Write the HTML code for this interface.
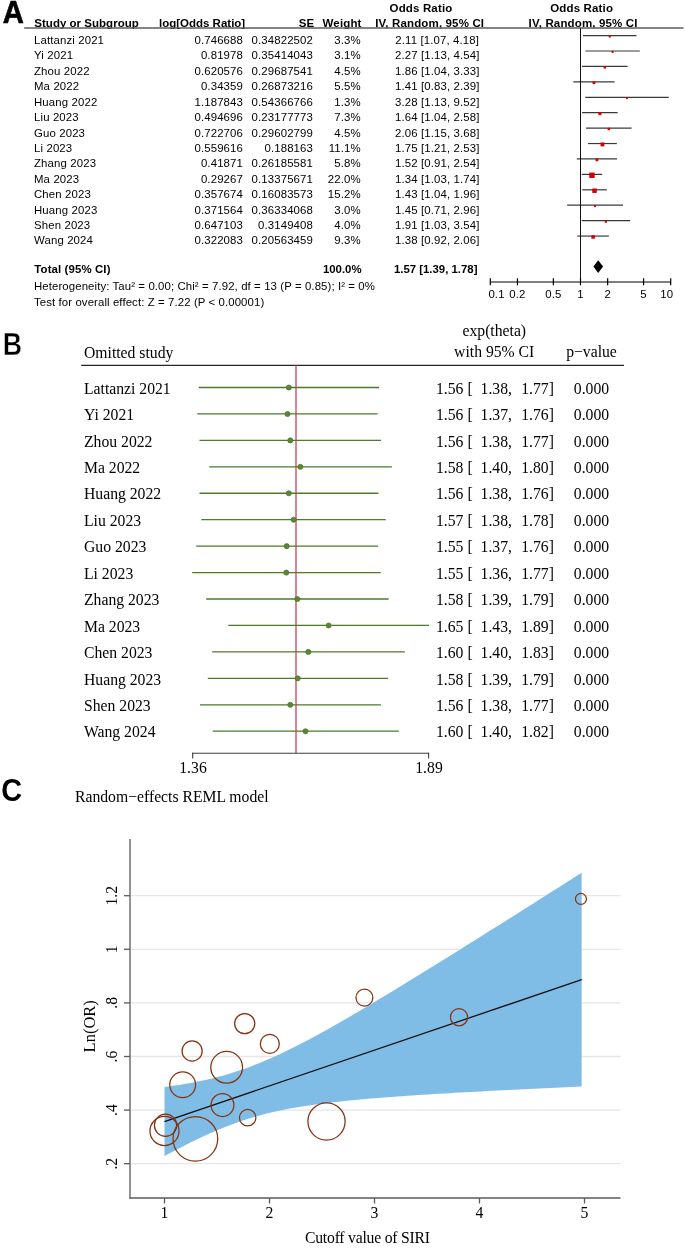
<!DOCTYPE html>
<html><head><meta charset="utf-8"><title>Figure</title>
<style>html,body{margin:0;padding:0;background:#fff;}body{width:685px;height:1259px;overflow:hidden;}svg{display:block;will-change:transform;}</style>
</head><body>
<svg width="685" height="1259" viewBox="0 0 685 1259"><text x="0.00" y="0.00" font-family='"Liberation Sans", sans-serif' font-size="30" text-anchor="start" font-weight="bold" fill="#000" letter-spacing="0" transform="translate(2.75 22.6) scale(0.975 1.05)" stroke="#000" stroke-width="0.6">A</text>
<text x="34.30" y="26.60" font-family='"Liberation Sans", sans-serif' font-size="11.5" text-anchor="start" font-weight="bold" fill="#000" letter-spacing="0.02" >Study or Subgroup</text>
<text x="245.20" y="26.60" font-family='"Liberation Sans", sans-serif' font-size="11.5" text-anchor="end" font-weight="bold" fill="#000" letter-spacing="0" >log[Odds Ratio]</text>
<text x="314.30" y="26.60" font-family='"Liberation Sans", sans-serif' font-size="11.5" text-anchor="end" font-weight="bold" fill="#000" letter-spacing="0.15" >SE</text>
<text x="361.60" y="26.60" font-family='"Liberation Sans", sans-serif' font-size="11.5" text-anchor="end" font-weight="bold" fill="#000" letter-spacing="0.15" >Weight</text>
<text x="429.70" y="26.60" font-family='"Liberation Sans", sans-serif' font-size="11.5" text-anchor="middle" font-weight="bold" fill="#000" letter-spacing="0.15" >IV, Random, 95% CI</text>
<text x="421.00" y="11.70" font-family='"Liberation Sans", sans-serif' font-size="11.5" text-anchor="middle" font-weight="bold" fill="#000" letter-spacing="0.15" >Odds Ratio</text>
<text x="583.10" y="26.60" font-family='"Liberation Sans", sans-serif' font-size="11.5" text-anchor="middle" font-weight="bold" fill="#000" letter-spacing="0.15" >IV, Random, 95% CI</text>
<text x="581.70" y="11.70" font-family='"Liberation Sans", sans-serif' font-size="11.5" text-anchor="middle" font-weight="bold" fill="#000" letter-spacing="0.15" >Odds Ratio</text>
<line x1="24.20" y1="28.10" x2="683.50" y2="28.10" stroke="#5c5c5c" stroke-width="1.5" />
<text x="34.00" y="44.00" font-family='"Liberation Sans", sans-serif' font-size="11.4" text-anchor="start" font-weight="normal" fill="#000" letter-spacing="0.13" >Lattanzi 2021</text>
<text x="243.00" y="44.00" font-family='"Liberation Sans", sans-serif' font-size="11.4" text-anchor="end" font-weight="normal" fill="#000" letter-spacing="0.13" >0.746688</text>
<text x="313.00" y="44.00" font-family='"Liberation Sans", sans-serif' font-size="11.4" text-anchor="end" font-weight="normal" fill="#000" letter-spacing="0.13" >0.34822502</text>
<text x="360.80" y="44.00" font-family='"Liberation Sans", sans-serif' font-size="11.4" text-anchor="end" font-weight="normal" fill="#000" letter-spacing="0.13" >3.3%</text>
<text x="437.20" y="44.00" font-family='"Liberation Sans", sans-serif' font-size="11.4" text-anchor="middle" font-weight="normal" fill="#000" letter-spacing="0.13" >2.11 [1.07, 4.18]</text>
<line x1="583.01" y1="35.60" x2="636.49" y2="35.60" stroke="#3a3a3a" stroke-width="1.2" />
<rect x="608.71" y="35.46" width="2.09" height="2.09" fill="#d40000"/>
<text x="34.00" y="59.42" font-family='"Liberation Sans", sans-serif' font-size="11.4" text-anchor="start" font-weight="normal" fill="#000" letter-spacing="0.13" >Yi 2021</text>
<text x="243.00" y="59.42" font-family='"Liberation Sans", sans-serif' font-size="11.4" text-anchor="end" font-weight="normal" fill="#000" letter-spacing="0.13" >0.81978</text>
<text x="313.00" y="59.42" font-family='"Liberation Sans", sans-serif' font-size="11.4" text-anchor="end" font-weight="normal" fill="#000" letter-spacing="0.13" >0.35414043</text>
<text x="360.80" y="59.42" font-family='"Liberation Sans", sans-serif' font-size="11.4" text-anchor="end" font-weight="normal" fill="#000" letter-spacing="0.13" >3.1%</text>
<text x="437.20" y="59.42" font-family='"Liberation Sans", sans-serif' font-size="11.4" text-anchor="middle" font-weight="normal" fill="#000" letter-spacing="0.13" >2.27 [1.13, 4.54]</text>
<line x1="585.42" y1="51.02" x2="639.80" y2="51.02" stroke="#3a3a3a" stroke-width="1.2" />
<rect x="611.60" y="50.91" width="2.02" height="2.02" fill="#d40000"/>
<text x="34.00" y="74.84" font-family='"Liberation Sans", sans-serif' font-size="11.4" text-anchor="start" font-weight="normal" fill="#000" letter-spacing="0.13" >Zhou 2022</text>
<text x="243.00" y="74.84" font-family='"Liberation Sans", sans-serif' font-size="11.4" text-anchor="end" font-weight="normal" fill="#000" letter-spacing="0.13" >0.620576</text>
<text x="313.00" y="74.84" font-family='"Liberation Sans", sans-serif' font-size="11.4" text-anchor="end" font-weight="normal" fill="#000" letter-spacing="0.13" >0.29687541</text>
<text x="360.80" y="74.84" font-family='"Liberation Sans", sans-serif' font-size="11.4" text-anchor="end" font-weight="normal" fill="#000" letter-spacing="0.13" >4.5%</text>
<text x="437.20" y="74.84" font-family='"Liberation Sans", sans-serif' font-size="11.4" text-anchor="middle" font-weight="normal" fill="#000" letter-spacing="0.13" >1.86 [1.04, 3.33]</text>
<line x1="582.02" y1="66.44" x2="627.60" y2="66.44" stroke="#3a3a3a" stroke-width="1.2" />
<rect x="603.59" y="66.12" width="2.44" height="2.44" fill="#d40000"/>
<text x="34.00" y="90.26" font-family='"Liberation Sans", sans-serif' font-size="11.4" text-anchor="start" font-weight="normal" fill="#000" letter-spacing="0.13" >Ma 2022</text>
<text x="243.00" y="90.26" font-family='"Liberation Sans", sans-serif' font-size="11.4" text-anchor="end" font-weight="normal" fill="#000" letter-spacing="0.13" >0.34359</text>
<text x="313.00" y="90.26" font-family='"Liberation Sans", sans-serif' font-size="11.4" text-anchor="end" font-weight="normal" fill="#000" letter-spacing="0.13" >0.26873216</text>
<text x="360.80" y="90.26" font-family='"Liberation Sans", sans-serif' font-size="11.4" text-anchor="end" font-weight="normal" fill="#000" letter-spacing="0.13" >5.5%</text>
<text x="437.20" y="90.26" font-family='"Liberation Sans", sans-serif' font-size="11.4" text-anchor="middle" font-weight="normal" fill="#000" letter-spacing="0.13" >1.41 [0.83, 2.39]</text>
<line x1="573.33" y1="81.86" x2="614.59" y2="81.86" stroke="#3a3a3a" stroke-width="1.2" />
<rect x="592.61" y="81.41" width="2.70" height="2.70" fill="#d40000"/>
<text x="34.00" y="105.68" font-family='"Liberation Sans", sans-serif' font-size="11.4" text-anchor="start" font-weight="normal" fill="#000" letter-spacing="0.13" >Huang 2022</text>
<text x="243.00" y="105.68" font-family='"Liberation Sans", sans-serif' font-size="11.4" text-anchor="end" font-weight="normal" fill="#000" letter-spacing="0.13" >1.187843</text>
<text x="313.00" y="105.68" font-family='"Liberation Sans", sans-serif' font-size="11.4" text-anchor="end" font-weight="normal" fill="#000" letter-spacing="0.13" >0.54366766</text>
<text x="360.80" y="105.68" font-family='"Liberation Sans", sans-serif' font-size="11.4" text-anchor="end" font-weight="normal" fill="#000" letter-spacing="0.13" >1.3%</text>
<text x="437.20" y="105.68" font-family='"Liberation Sans", sans-serif' font-size="11.4" text-anchor="middle" font-weight="normal" fill="#000" letter-spacing="0.13" >3.28 [1.13, 9.52]</text>
<line x1="585.29" y1="97.28" x2="668.77" y2="97.28" stroke="#3a3a3a" stroke-width="1.2" />
<rect x="626.08" y="97.23" width="1.90" height="1.90" fill="#d40000"/>
<text x="34.00" y="121.10" font-family='"Liberation Sans", sans-serif' font-size="11.4" text-anchor="start" font-weight="normal" fill="#000" letter-spacing="0.13" >Liu 2023</text>
<text x="243.00" y="121.10" font-family='"Liberation Sans", sans-serif' font-size="11.4" text-anchor="end" font-weight="normal" fill="#000" letter-spacing="0.13" >0.494696</text>
<text x="313.00" y="121.10" font-family='"Liberation Sans", sans-serif' font-size="11.4" text-anchor="end" font-weight="normal" fill="#000" letter-spacing="0.13" >0.23177773</text>
<text x="360.80" y="121.10" font-family='"Liberation Sans", sans-serif' font-size="11.4" text-anchor="end" font-weight="normal" fill="#000" letter-spacing="0.13" >7.3%</text>
<text x="437.20" y="121.10" font-family='"Liberation Sans", sans-serif' font-size="11.4" text-anchor="middle" font-weight="normal" fill="#000" letter-spacing="0.13" >1.64 [1.04, 2.58]</text>
<line x1="582.08" y1="112.70" x2="617.67" y2="112.70" stroke="#3a3a3a" stroke-width="1.2" />
<rect x="598.33" y="112.05" width="3.11" height="3.11" fill="#d40000"/>
<text x="34.00" y="136.52" font-family='"Liberation Sans", sans-serif' font-size="11.4" text-anchor="start" font-weight="normal" fill="#000" letter-spacing="0.13" >Guo 2023</text>
<text x="243.00" y="136.52" font-family='"Liberation Sans", sans-serif' font-size="11.4" text-anchor="end" font-weight="normal" fill="#000" letter-spacing="0.13" >0.722706</text>
<text x="313.00" y="136.52" font-family='"Liberation Sans", sans-serif' font-size="11.4" text-anchor="end" font-weight="normal" fill="#000" letter-spacing="0.13" >0.29602799</text>
<text x="360.80" y="136.52" font-family='"Liberation Sans", sans-serif' font-size="11.4" text-anchor="end" font-weight="normal" fill="#000" letter-spacing="0.13" >4.5%</text>
<text x="437.20" y="136.52" font-family='"Liberation Sans", sans-serif' font-size="11.4" text-anchor="middle" font-weight="normal" fill="#000" letter-spacing="0.13" >2.06 [1.15, 3.68]</text>
<line x1="586.08" y1="128.12" x2="631.54" y2="128.12" stroke="#3a3a3a" stroke-width="1.2" />
<rect x="607.59" y="127.80" width="2.44" height="2.44" fill="#d40000"/>
<text x="34.00" y="151.94" font-family='"Liberation Sans", sans-serif' font-size="11.4" text-anchor="start" font-weight="normal" fill="#000" letter-spacing="0.13" >Li 2023</text>
<text x="243.00" y="151.94" font-family='"Liberation Sans", sans-serif' font-size="11.4" text-anchor="end" font-weight="normal" fill="#000" letter-spacing="0.13" >0.559616</text>
<text x="313.00" y="151.94" font-family='"Liberation Sans", sans-serif' font-size="11.4" text-anchor="end" font-weight="normal" fill="#000" letter-spacing="0.13" >0.188163</text>
<text x="360.80" y="151.94" font-family='"Liberation Sans", sans-serif' font-size="11.4" text-anchor="end" font-weight="normal" fill="#000" letter-spacing="0.13" >11.1%</text>
<text x="437.20" y="151.94" font-family='"Liberation Sans", sans-serif' font-size="11.4" text-anchor="middle" font-weight="normal" fill="#000" letter-spacing="0.13" >1.75 [1.21, 2.53]</text>
<line x1="587.97" y1="143.54" x2="616.87" y2="143.54" stroke="#3a3a3a" stroke-width="1.2" />
<rect x="600.51" y="142.52" width="3.83" height="3.83" fill="#d40000"/>
<text x="34.00" y="167.36" font-family='"Liberation Sans", sans-serif' font-size="11.4" text-anchor="start" font-weight="normal" fill="#000" letter-spacing="0.13" >Zhang 2023</text>
<text x="243.00" y="167.36" font-family='"Liberation Sans", sans-serif' font-size="11.4" text-anchor="end" font-weight="normal" fill="#000" letter-spacing="0.13" >0.41871</text>
<text x="313.00" y="167.36" font-family='"Liberation Sans", sans-serif' font-size="11.4" text-anchor="end" font-weight="normal" fill="#000" letter-spacing="0.13" >0.26185581</text>
<text x="360.80" y="167.36" font-family='"Liberation Sans", sans-serif' font-size="11.4" text-anchor="end" font-weight="normal" fill="#000" letter-spacing="0.13" >5.8%</text>
<text x="437.20" y="167.36" font-family='"Liberation Sans", sans-serif' font-size="11.4" text-anchor="middle" font-weight="normal" fill="#000" letter-spacing="0.13" >1.52 [0.91, 2.54]</text>
<line x1="576.80" y1="158.96" x2="617.01" y2="158.96" stroke="#3a3a3a" stroke-width="1.2" />
<rect x="595.52" y="158.48" width="2.77" height="2.77" fill="#d40000"/>
<text x="34.00" y="182.78" font-family='"Liberation Sans", sans-serif' font-size="11.4" text-anchor="start" font-weight="normal" fill="#000" letter-spacing="0.13" >Ma 2023</text>
<text x="243.00" y="182.78" font-family='"Liberation Sans", sans-serif' font-size="11.4" text-anchor="end" font-weight="normal" fill="#000" letter-spacing="0.13" >0.29267</text>
<text x="313.00" y="182.78" font-family='"Liberation Sans", sans-serif' font-size="11.4" text-anchor="end" font-weight="normal" fill="#000" letter-spacing="0.13" >0.13375671</text>
<text x="360.80" y="182.78" font-family='"Liberation Sans", sans-serif' font-size="11.4" text-anchor="end" font-weight="normal" fill="#000" letter-spacing="0.13" >22.0%</text>
<text x="437.20" y="182.78" font-family='"Liberation Sans", sans-serif' font-size="11.4" text-anchor="middle" font-weight="normal" fill="#000" letter-spacing="0.13" >1.34 [1.03, 1.74]</text>
<line x1="581.70" y1="174.38" x2="602.23" y2="174.38" stroke="#3a3a3a" stroke-width="1.2" />
<rect x="589.27" y="172.58" width="5.39" height="5.39" fill="#d40000"/>
<text x="34.00" y="198.20" font-family='"Liberation Sans", sans-serif' font-size="11.4" text-anchor="start" font-weight="normal" fill="#000" letter-spacing="0.13" >Chen 2023</text>
<text x="243.00" y="198.20" font-family='"Liberation Sans", sans-serif' font-size="11.4" text-anchor="end" font-weight="normal" fill="#000" letter-spacing="0.13" >0.357674</text>
<text x="313.00" y="198.20" font-family='"Liberation Sans", sans-serif' font-size="11.4" text-anchor="end" font-weight="normal" fill="#000" letter-spacing="0.13" >0.16083573</text>
<text x="360.80" y="198.20" font-family='"Liberation Sans", sans-serif' font-size="11.4" text-anchor="end" font-weight="normal" fill="#000" letter-spacing="0.13" >15.2%</text>
<text x="437.20" y="198.20" font-family='"Liberation Sans", sans-serif' font-size="11.4" text-anchor="middle" font-weight="normal" fill="#000" letter-spacing="0.13" >1.43 [1.04, 1.96]</text>
<line x1="582.16" y1="189.80" x2="606.86" y2="189.80" stroke="#3a3a3a" stroke-width="1.2" />
<rect x="592.27" y="188.46" width="4.48" height="4.48" fill="#d40000"/>
<text x="34.00" y="213.62" font-family='"Liberation Sans", sans-serif' font-size="11.4" text-anchor="start" font-weight="normal" fill="#000" letter-spacing="0.13" >Huang 2023</text>
<text x="243.00" y="213.62" font-family='"Liberation Sans", sans-serif' font-size="11.4" text-anchor="end" font-weight="normal" fill="#000" letter-spacing="0.13" >0.371564</text>
<text x="313.00" y="213.62" font-family='"Liberation Sans", sans-serif' font-size="11.4" text-anchor="end" font-weight="normal" fill="#000" letter-spacing="0.13" >0.36334068</text>
<text x="360.80" y="213.62" font-family='"Liberation Sans", sans-serif' font-size="11.4" text-anchor="end" font-weight="normal" fill="#000" letter-spacing="0.13" >3.0%</text>
<text x="437.20" y="213.62" font-family='"Liberation Sans", sans-serif' font-size="11.4" text-anchor="middle" font-weight="normal" fill="#000" letter-spacing="0.13" >1.45 [0.71, 2.96]</text>
<line x1="567.16" y1="205.22" x2="622.95" y2="205.22" stroke="#3a3a3a" stroke-width="1.2" />
<rect x="594.06" y="205.12" width="1.99" height="1.99" fill="#d40000"/>
<text x="34.00" y="229.04" font-family='"Liberation Sans", sans-serif' font-size="11.4" text-anchor="start" font-weight="normal" fill="#000" letter-spacing="0.13" >Shen 2023</text>
<text x="243.00" y="229.04" font-family='"Liberation Sans", sans-serif' font-size="11.4" text-anchor="end" font-weight="normal" fill="#000" letter-spacing="0.13" >0.647103</text>
<text x="313.00" y="229.04" font-family='"Liberation Sans", sans-serif' font-size="11.4" text-anchor="end" font-weight="normal" fill="#000" letter-spacing="0.13" >0.3149408</text>
<text x="360.80" y="229.04" font-family='"Liberation Sans", sans-serif' font-size="11.4" text-anchor="end" font-weight="normal" fill="#000" letter-spacing="0.13" >4.0%</text>
<text x="437.20" y="229.04" font-family='"Liberation Sans", sans-serif' font-size="11.4" text-anchor="middle" font-weight="normal" fill="#000" letter-spacing="0.13" >1.91 [1.03, 3.54]</text>
<line x1="581.67" y1="220.64" x2="630.03" y2="220.64" stroke="#3a3a3a" stroke-width="1.2" />
<rect x="604.70" y="220.39" width="2.30" height="2.30" fill="#d40000"/>
<text x="34.00" y="244.46" font-family='"Liberation Sans", sans-serif' font-size="11.4" text-anchor="start" font-weight="normal" fill="#000" letter-spacing="0.13" >Wang 2024</text>
<text x="243.00" y="244.46" font-family='"Liberation Sans", sans-serif' font-size="11.4" text-anchor="end" font-weight="normal" fill="#000" letter-spacing="0.13" >0.322083</text>
<text x="313.00" y="244.46" font-family='"Liberation Sans", sans-serif' font-size="11.4" text-anchor="end" font-weight="normal" fill="#000" letter-spacing="0.13" >0.20563459</text>
<text x="360.80" y="244.46" font-family='"Liberation Sans", sans-serif' font-size="11.4" text-anchor="end" font-weight="normal" fill="#000" letter-spacing="0.13" >9.3%</text>
<text x="437.20" y="244.46" font-family='"Liberation Sans", sans-serif' font-size="11.4" text-anchor="middle" font-weight="normal" fill="#000" letter-spacing="0.13" >1.38 [0.92, 2.06]</text>
<line x1="577.33" y1="236.06" x2="608.91" y2="236.06" stroke="#3a3a3a" stroke-width="1.2" />
<rect x="591.36" y="235.21" width="3.51" height="3.51" fill="#d40000"/>
<text x="34.30" y="272.90" font-family='"Liberation Sans", sans-serif' font-size="11.4" text-anchor="start" font-weight="bold" fill="#000" letter-spacing="0.13" >Total (95% CI)</text>
<text x="361.60" y="272.90" font-family='"Liberation Sans", sans-serif' font-size="11.4" text-anchor="end" font-weight="bold" fill="#000" letter-spacing="0" >100.0%</text>
<text x="435.70" y="272.90" font-family='"Liberation Sans", sans-serif' font-size="11.4" text-anchor="middle" font-weight="bold" fill="#000" letter-spacing="0" >1.57 [1.39, 1.78]</text>
<text x="34.00" y="290.30" font-family='"Liberation Sans", sans-serif' font-size="11.4" text-anchor="start" font-weight="normal" fill="#000" letter-spacing="0.1" >Heterogeneity: Tau² = 0.00; Chi² = 7.92, df = 13 (P = 0.85); I² = 0%</text>
<text x="34.00" y="305.50" font-family='"Liberation Sans", sans-serif' font-size="11.4" text-anchor="start" font-weight="normal" fill="#000" letter-spacing="0.1" >Test for overall effect: Z = 7.22 (P &lt; 0.00001)</text>
<polygon points="593.40,266.6 598.17,260.3 603.09,266.6 598.17,272.9" fill="#000"/>
<line x1="580.50" y1="28.30" x2="580.50" y2="282.00" stroke="#111" stroke-width="1.05" />
<line x1="490.50" y1="282.00" x2="671.00" y2="282.00" stroke="#000" stroke-width="1.2" />
<line x1="490.30" y1="278.30" x2="490.30" y2="285.30" stroke="#000" stroke-width="1.2" />
<text x="488.40" y="297.50" font-family='"Liberation Sans", sans-serif' font-size="11.4" text-anchor="start" font-weight="normal" fill="#000" letter-spacing="0.13" >0.1</text>
<line x1="517.45" y1="278.30" x2="517.45" y2="285.30" stroke="#000" stroke-width="1.2" />
<text x="517.45" y="297.50" font-family='"Liberation Sans", sans-serif' font-size="11.4" text-anchor="middle" font-weight="normal" fill="#000" letter-spacing="0.13" >0.2</text>
<line x1="553.35" y1="278.30" x2="553.35" y2="285.30" stroke="#000" stroke-width="1.2" />
<text x="553.35" y="297.50" font-family='"Liberation Sans", sans-serif' font-size="11.4" text-anchor="middle" font-weight="normal" fill="#000" letter-spacing="0.13" >0.5</text>
<line x1="580.50" y1="278.30" x2="580.50" y2="285.30" stroke="#000" stroke-width="1.2" />
<text x="580.50" y="297.50" font-family='"Liberation Sans", sans-serif' font-size="11.4" text-anchor="middle" font-weight="normal" fill="#000" letter-spacing="0.13" >1</text>
<line x1="607.65" y1="278.30" x2="607.65" y2="285.30" stroke="#000" stroke-width="1.2" />
<text x="607.65" y="297.50" font-family='"Liberation Sans", sans-serif' font-size="11.4" text-anchor="middle" font-weight="normal" fill="#000" letter-spacing="0.13" >2</text>
<line x1="643.55" y1="278.30" x2="643.55" y2="285.30" stroke="#000" stroke-width="1.2" />
<text x="643.55" y="297.50" font-family='"Liberation Sans", sans-serif' font-size="11.4" text-anchor="middle" font-weight="normal" fill="#000" letter-spacing="0.13" >5</text>
<line x1="670.70" y1="278.30" x2="670.70" y2="285.30" stroke="#000" stroke-width="1.2" />
<text x="673.20" y="297.50" font-family='"Liberation Sans", sans-serif' font-size="11.4" text-anchor="end" font-weight="normal" fill="#000" letter-spacing="0.13" >10</text>
<text x="0.00" y="0.00" font-family='"Liberation Sans", sans-serif' font-size="30" text-anchor="start" font-weight="bold" fill="#000" letter-spacing="0" transform="translate(2.67 355.4) scale(0.894 1.02)" stroke="#fff" stroke-width="0.45">B</text>
<text x="84.00" y="357.60" font-family='"Liberation Serif", serif' font-size="15.7" text-anchor="start" font-weight="normal" fill="#000" letter-spacing="0" >Omitted study</text>
<text x="494.30" y="336.30" font-family='"Liberation Serif", serif' font-size="15.7" text-anchor="middle" font-weight="normal" fill="#000" letter-spacing="0" >exp(theta)</text>
<text x="494.20" y="356.70" font-family='"Liberation Serif", serif' font-size="15.7" text-anchor="middle" font-weight="normal" fill="#000" letter-spacing="0" >with 95% CI</text>
<text x="591.50" y="356.70" font-family='"Liberation Serif", serif' font-size="15.7" text-anchor="middle" font-weight="normal" fill="#000" letter-spacing="0" >p−value</text>
<line x1="81.20" y1="365.40" x2="624.00" y2="365.40" stroke="#262626" stroke-width="1.35" />
<line x1="296.00" y1="365.80" x2="296.00" y2="753.00" stroke="#dc8590" stroke-width="2.0" />
<text x="84.00" y="393.70" font-family='"Liberation Serif", serif' font-size="15.7" text-anchor="start" font-weight="normal" fill="#000" letter-spacing="0" >Lattanzi 2021</text>
<text x="436.00" y="393.70" font-family='"Liberation Serif", serif' font-size="15.7" text-anchor="start" font-weight="normal" fill="#000" letter-spacing="0" >1.56 [</text>
<text x="480.60" y="393.70" font-family='"Liberation Serif", serif' font-size="15.7" text-anchor="start" font-weight="normal" fill="#000" letter-spacing="0" >1.38,</text>
<text x="553.90" y="393.70" font-family='"Liberation Serif", serif' font-size="15.7" text-anchor="end" font-weight="normal" fill="#000" letter-spacing="0" >1.77]</text>
<text x="591.50" y="393.70" font-family='"Liberation Serif", serif' font-size="15.7" text-anchor="middle" font-weight="normal" fill="#000" letter-spacing="0" >0.000</text>
<line x1="198.70" y1="387.50" x2="379.10" y2="387.50" stroke="#4e7a2a" stroke-width="1.3" />
<circle cx="288.80" cy="387.50" r="2.55" fill="#5a873a" stroke="#4a7324" stroke-width="0.7"/>
<text x="84.00" y="420.14" font-family='"Liberation Serif", serif' font-size="15.7" text-anchor="start" font-weight="normal" fill="#000" letter-spacing="0" >Yi 2021</text>
<text x="436.00" y="420.14" font-family='"Liberation Serif", serif' font-size="15.7" text-anchor="start" font-weight="normal" fill="#000" letter-spacing="0" >1.56 [</text>
<text x="480.60" y="420.14" font-family='"Liberation Serif", serif' font-size="15.7" text-anchor="start" font-weight="normal" fill="#000" letter-spacing="0" >1.37,</text>
<text x="553.90" y="420.14" font-family='"Liberation Serif", serif' font-size="15.7" text-anchor="end" font-weight="normal" fill="#000" letter-spacing="0" >1.76]</text>
<text x="591.50" y="420.14" font-family='"Liberation Serif", serif' font-size="15.7" text-anchor="middle" font-weight="normal" fill="#000" letter-spacing="0" >0.000</text>
<line x1="197.20" y1="413.94" x2="377.70" y2="413.94" stroke="#4e7a2a" stroke-width="1.3" />
<circle cx="287.50" cy="413.94" r="2.55" fill="#5a873a" stroke="#4a7324" stroke-width="0.7"/>
<text x="84.00" y="446.58" font-family='"Liberation Serif", serif' font-size="15.7" text-anchor="start" font-weight="normal" fill="#000" letter-spacing="0" >Zhou 2022</text>
<text x="436.00" y="446.58" font-family='"Liberation Serif", serif' font-size="15.7" text-anchor="start" font-weight="normal" fill="#000" letter-spacing="0" >1.56 [</text>
<text x="480.60" y="446.58" font-family='"Liberation Serif", serif' font-size="15.7" text-anchor="start" font-weight="normal" fill="#000" letter-spacing="0" >1.38,</text>
<text x="553.90" y="446.58" font-family='"Liberation Serif", serif' font-size="15.7" text-anchor="end" font-weight="normal" fill="#000" letter-spacing="0" >1.77]</text>
<text x="591.50" y="446.58" font-family='"Liberation Serif", serif' font-size="15.7" text-anchor="middle" font-weight="normal" fill="#000" letter-spacing="0" >0.000</text>
<line x1="199.50" y1="440.38" x2="381.10" y2="440.38" stroke="#4e7a2a" stroke-width="1.3" />
<circle cx="290.30" cy="440.38" r="2.55" fill="#5a873a" stroke="#4a7324" stroke-width="0.7"/>
<text x="84.00" y="473.02" font-family='"Liberation Serif", serif' font-size="15.7" text-anchor="start" font-weight="normal" fill="#000" letter-spacing="0" >Ma 2022</text>
<text x="436.00" y="473.02" font-family='"Liberation Serif", serif' font-size="15.7" text-anchor="start" font-weight="normal" fill="#000" letter-spacing="0" >1.58 [</text>
<text x="480.60" y="473.02" font-family='"Liberation Serif", serif' font-size="15.7" text-anchor="start" font-weight="normal" fill="#000" letter-spacing="0" >1.40,</text>
<text x="553.90" y="473.02" font-family='"Liberation Serif", serif' font-size="15.7" text-anchor="end" font-weight="normal" fill="#000" letter-spacing="0" >1.80]</text>
<text x="591.50" y="473.02" font-family='"Liberation Serif", serif' font-size="15.7" text-anchor="middle" font-weight="normal" fill="#000" letter-spacing="0" >0.000</text>
<line x1="209.20" y1="466.82" x2="391.90" y2="466.82" stroke="#4e7a2a" stroke-width="1.3" />
<circle cx="300.30" cy="466.82" r="2.55" fill="#5a873a" stroke="#4a7324" stroke-width="0.7"/>
<text x="84.00" y="499.46" font-family='"Liberation Serif", serif' font-size="15.7" text-anchor="start" font-weight="normal" fill="#000" letter-spacing="0" >Huang 2022</text>
<text x="436.00" y="499.46" font-family='"Liberation Serif", serif' font-size="15.7" text-anchor="start" font-weight="normal" fill="#000" letter-spacing="0" >1.56 [</text>
<text x="480.60" y="499.46" font-family='"Liberation Serif", serif' font-size="15.7" text-anchor="start" font-weight="normal" fill="#000" letter-spacing="0" >1.38,</text>
<text x="553.90" y="499.46" font-family='"Liberation Serif", serif' font-size="15.7" text-anchor="end" font-weight="normal" fill="#000" letter-spacing="0" >1.76]</text>
<text x="591.50" y="499.46" font-family='"Liberation Serif", serif' font-size="15.7" text-anchor="middle" font-weight="normal" fill="#000" letter-spacing="0" >0.000</text>
<line x1="199.50" y1="493.26" x2="378.40" y2="493.26" stroke="#4e7a2a" stroke-width="1.3" />
<circle cx="288.80" cy="493.26" r="2.55" fill="#5a873a" stroke="#4a7324" stroke-width="0.7"/>
<text x="84.00" y="525.90" font-family='"Liberation Serif", serif' font-size="15.7" text-anchor="start" font-weight="normal" fill="#000" letter-spacing="0" >Liu 2023</text>
<text x="436.00" y="525.90" font-family='"Liberation Serif", serif' font-size="15.7" text-anchor="start" font-weight="normal" fill="#000" letter-spacing="0" >1.57 [</text>
<text x="480.60" y="525.90" font-family='"Liberation Serif", serif' font-size="15.7" text-anchor="start" font-weight="normal" fill="#000" letter-spacing="0" >1.38,</text>
<text x="553.90" y="525.90" font-family='"Liberation Serif", serif' font-size="15.7" text-anchor="end" font-weight="normal" fill="#000" letter-spacing="0" >1.78]</text>
<text x="591.50" y="525.90" font-family='"Liberation Serif", serif' font-size="15.7" text-anchor="middle" font-weight="normal" fill="#000" letter-spacing="0" >0.000</text>
<line x1="201.30" y1="519.70" x2="385.70" y2="519.70" stroke="#4e7a2a" stroke-width="1.3" />
<circle cx="293.70" cy="519.70" r="2.55" fill="#5a873a" stroke="#4a7324" stroke-width="0.7"/>
<text x="84.00" y="552.34" font-family='"Liberation Serif", serif' font-size="15.7" text-anchor="start" font-weight="normal" fill="#000" letter-spacing="0" >Guo 2023</text>
<text x="436.00" y="552.34" font-family='"Liberation Serif", serif' font-size="15.7" text-anchor="start" font-weight="normal" fill="#000" letter-spacing="0" >1.55 [</text>
<text x="480.60" y="552.34" font-family='"Liberation Serif", serif' font-size="15.7" text-anchor="start" font-weight="normal" fill="#000" letter-spacing="0" >1.37,</text>
<text x="553.90" y="552.34" font-family='"Liberation Serif", serif' font-size="15.7" text-anchor="end" font-weight="normal" fill="#000" letter-spacing="0" >1.76]</text>
<text x="591.50" y="552.34" font-family='"Liberation Serif", serif' font-size="15.7" text-anchor="middle" font-weight="normal" fill="#000" letter-spacing="0" >0.000</text>
<line x1="196.20" y1="546.14" x2="378.10" y2="546.14" stroke="#4e7a2a" stroke-width="1.3" />
<circle cx="286.70" cy="546.14" r="2.55" fill="#5a873a" stroke="#4a7324" stroke-width="0.7"/>
<text x="84.00" y="578.78" font-family='"Liberation Serif", serif' font-size="15.7" text-anchor="start" font-weight="normal" fill="#000" letter-spacing="0" >Li 2023</text>
<text x="436.00" y="578.78" font-family='"Liberation Serif", serif' font-size="15.7" text-anchor="start" font-weight="normal" fill="#000" letter-spacing="0" >1.55 [</text>
<text x="480.60" y="578.78" font-family='"Liberation Serif", serif' font-size="15.7" text-anchor="start" font-weight="normal" fill="#000" letter-spacing="0" >1.36,</text>
<text x="553.90" y="578.78" font-family='"Liberation Serif", serif' font-size="15.7" text-anchor="end" font-weight="normal" fill="#000" letter-spacing="0" >1.77]</text>
<text x="591.50" y="578.78" font-family='"Liberation Serif", serif' font-size="15.7" text-anchor="middle" font-weight="normal" fill="#000" letter-spacing="0" >0.000</text>
<line x1="192.20" y1="572.58" x2="380.70" y2="572.58" stroke="#4e7a2a" stroke-width="1.3" />
<circle cx="286.30" cy="572.58" r="2.55" fill="#5a873a" stroke="#4a7324" stroke-width="0.7"/>
<text x="84.00" y="605.22" font-family='"Liberation Serif", serif' font-size="15.7" text-anchor="start" font-weight="normal" fill="#000" letter-spacing="0" >Zhang 2023</text>
<text x="436.00" y="605.22" font-family='"Liberation Serif", serif' font-size="15.7" text-anchor="start" font-weight="normal" fill="#000" letter-spacing="0" >1.58 [</text>
<text x="480.60" y="605.22" font-family='"Liberation Serif", serif' font-size="15.7" text-anchor="start" font-weight="normal" fill="#000" letter-spacing="0" >1.39,</text>
<text x="553.90" y="605.22" font-family='"Liberation Serif", serif' font-size="15.7" text-anchor="end" font-weight="normal" fill="#000" letter-spacing="0" >1.79]</text>
<text x="591.50" y="605.22" font-family='"Liberation Serif", serif' font-size="15.7" text-anchor="middle" font-weight="normal" fill="#000" letter-spacing="0" >0.000</text>
<line x1="206.20" y1="599.02" x2="388.70" y2="599.02" stroke="#4e7a2a" stroke-width="1.3" />
<circle cx="297.30" cy="599.02" r="2.55" fill="#5a873a" stroke="#4a7324" stroke-width="0.7"/>
<text x="84.00" y="631.66" font-family='"Liberation Serif", serif' font-size="15.7" text-anchor="start" font-weight="normal" fill="#000" letter-spacing="0" >Ma 2023</text>
<text x="436.00" y="631.66" font-family='"Liberation Serif", serif' font-size="15.7" text-anchor="start" font-weight="normal" fill="#000" letter-spacing="0" >1.65 [</text>
<text x="480.60" y="631.66" font-family='"Liberation Serif", serif' font-size="15.7" text-anchor="start" font-weight="normal" fill="#000" letter-spacing="0" >1.43,</text>
<text x="553.90" y="631.66" font-family='"Liberation Serif", serif' font-size="15.7" text-anchor="end" font-weight="normal" fill="#000" letter-spacing="0" >1.89]</text>
<text x="591.50" y="631.66" font-family='"Liberation Serif", serif' font-size="15.7" text-anchor="middle" font-weight="normal" fill="#000" letter-spacing="0" >0.000</text>
<line x1="228.30" y1="625.46" x2="429.00" y2="625.46" stroke="#4e7a2a" stroke-width="1.3" />
<circle cx="328.60" cy="625.46" r="2.55" fill="#5a873a" stroke="#4a7324" stroke-width="0.7"/>
<text x="84.00" y="658.10" font-family='"Liberation Serif", serif' font-size="15.7" text-anchor="start" font-weight="normal" fill="#000" letter-spacing="0" >Chen 2023</text>
<text x="436.00" y="658.10" font-family='"Liberation Serif", serif' font-size="15.7" text-anchor="start" font-weight="normal" fill="#000" letter-spacing="0" >1.60 [</text>
<text x="480.60" y="658.10" font-family='"Liberation Serif", serif' font-size="15.7" text-anchor="start" font-weight="normal" fill="#000" letter-spacing="0" >1.40,</text>
<text x="553.90" y="658.10" font-family='"Liberation Serif", serif' font-size="15.7" text-anchor="end" font-weight="normal" fill="#000" letter-spacing="0" >1.83]</text>
<text x="591.50" y="658.10" font-family='"Liberation Serif", serif' font-size="15.7" text-anchor="middle" font-weight="normal" fill="#000" letter-spacing="0" >0.000</text>
<line x1="212.20" y1="651.90" x2="404.80" y2="651.90" stroke="#4e7a2a" stroke-width="1.3" />
<circle cx="308.30" cy="651.90" r="2.55" fill="#5a873a" stroke="#4a7324" stroke-width="0.7"/>
<text x="84.00" y="684.54" font-family='"Liberation Serif", serif' font-size="15.7" text-anchor="start" font-weight="normal" fill="#000" letter-spacing="0" >Huang 2023</text>
<text x="436.00" y="684.54" font-family='"Liberation Serif", serif' font-size="15.7" text-anchor="start" font-weight="normal" fill="#000" letter-spacing="0" >1.58 [</text>
<text x="480.60" y="684.54" font-family='"Liberation Serif", serif' font-size="15.7" text-anchor="start" font-weight="normal" fill="#000" letter-spacing="0" >1.39,</text>
<text x="553.90" y="684.54" font-family='"Liberation Serif", serif' font-size="15.7" text-anchor="end" font-weight="normal" fill="#000" letter-spacing="0" >1.79]</text>
<text x="591.50" y="684.54" font-family='"Liberation Serif", serif' font-size="15.7" text-anchor="middle" font-weight="normal" fill="#000" letter-spacing="0" >0.000</text>
<line x1="207.80" y1="678.34" x2="388.10" y2="678.34" stroke="#4e7a2a" stroke-width="1.3" />
<circle cx="297.70" cy="678.34" r="2.55" fill="#5a873a" stroke="#4a7324" stroke-width="0.7"/>
<text x="84.00" y="710.98" font-family='"Liberation Serif", serif' font-size="15.7" text-anchor="start" font-weight="normal" fill="#000" letter-spacing="0" >Shen 2023</text>
<text x="436.00" y="710.98" font-family='"Liberation Serif", serif' font-size="15.7" text-anchor="start" font-weight="normal" fill="#000" letter-spacing="0" >1.56 [</text>
<text x="480.60" y="710.98" font-family='"Liberation Serif", serif' font-size="15.7" text-anchor="start" font-weight="normal" fill="#000" letter-spacing="0" >1.38,</text>
<text x="553.90" y="710.98" font-family='"Liberation Serif", serif' font-size="15.7" text-anchor="end" font-weight="normal" fill="#000" letter-spacing="0" >1.77]</text>
<text x="591.50" y="710.98" font-family='"Liberation Serif", serif' font-size="15.7" text-anchor="middle" font-weight="normal" fill="#000" letter-spacing="0" >0.000</text>
<line x1="200.00" y1="704.78" x2="380.90" y2="704.78" stroke="#4e7a2a" stroke-width="1.3" />
<circle cx="290.30" cy="704.78" r="2.55" fill="#5a873a" stroke="#4a7324" stroke-width="0.7"/>
<text x="84.00" y="737.42" font-family='"Liberation Serif", serif' font-size="15.7" text-anchor="start" font-weight="normal" fill="#000" letter-spacing="0" >Wang 2024</text>
<text x="436.00" y="737.42" font-family='"Liberation Serif", serif' font-size="15.7" text-anchor="start" font-weight="normal" fill="#000" letter-spacing="0" >1.60 [</text>
<text x="480.60" y="737.42" font-family='"Liberation Serif", serif' font-size="15.7" text-anchor="start" font-weight="normal" fill="#000" letter-spacing="0" >1.40,</text>
<text x="553.90" y="737.42" font-family='"Liberation Serif", serif' font-size="15.7" text-anchor="end" font-weight="normal" fill="#000" letter-spacing="0" >1.82]</text>
<text x="591.50" y="737.42" font-family='"Liberation Serif", serif' font-size="15.7" text-anchor="middle" font-weight="normal" fill="#000" letter-spacing="0" >0.000</text>
<line x1="212.70" y1="731.22" x2="398.80" y2="731.22" stroke="#4e7a2a" stroke-width="1.3" />
<circle cx="305.50" cy="731.22" r="2.55" fill="#5a873a" stroke="#4a7324" stroke-width="0.7"/>
<line x1="192.10" y1="753.30" x2="429.10" y2="753.30" stroke="#3c3c3c" stroke-width="1.1" />
<line x1="192.70" y1="752.80" x2="192.70" y2="758.60" stroke="#3c3c3c" stroke-width="1.1" />
<line x1="428.60" y1="752.80" x2="428.60" y2="758.60" stroke="#3c3c3c" stroke-width="1.1" />
<text x="193.00" y="773.00" font-family='"Liberation Serif", serif' font-size="15.7" text-anchor="middle" font-weight="normal" fill="#000" letter-spacing="0" >1.36</text>
<text x="429.00" y="773.00" font-family='"Liberation Serif", serif' font-size="15.7" text-anchor="middle" font-weight="normal" fill="#000" letter-spacing="0" >1.89</text>
<text x="0.00" y="0.00" font-family='"Liberation Sans", sans-serif' font-size="30" text-anchor="start" font-weight="bold" fill="#000" letter-spacing="0" transform="translate(1.3 800.9) scale(0.96 1.02)">C</text>
<text x="75.00" y="801.50" font-family='"Liberation Serif", serif' font-size="15.7" text-anchor="start" font-weight="normal" fill="#000" letter-spacing="0" >Random−effects REML model</text>
<line x1="131.00" y1="1163.70" x2="620.50" y2="1163.70" stroke="#e6e6e6" stroke-width="1.3" />
<line x1="131.00" y1="1110.10" x2="620.50" y2="1110.10" stroke="#e6e6e6" stroke-width="1.3" />
<line x1="131.00" y1="1056.50" x2="620.50" y2="1056.50" stroke="#e6e6e6" stroke-width="1.3" />
<line x1="131.00" y1="1002.90" x2="620.50" y2="1002.90" stroke="#e6e6e6" stroke-width="1.3" />
<line x1="131.00" y1="949.30" x2="620.50" y2="949.30" stroke="#e6e6e6" stroke-width="1.3" />
<line x1="131.00" y1="895.70" x2="620.50" y2="895.70" stroke="#e6e6e6" stroke-width="1.3" />
<polygon points="164.50,1087.08 169.78,1086.34 175.06,1085.56 180.34,1084.72 185.62,1083.83 190.90,1082.89 196.18,1081.87 201.46,1080.79 206.74,1079.63 212.03,1078.40 217.31,1077.07 222.59,1075.66 227.87,1074.15 233.15,1072.54 238.43,1070.84 243.71,1069.03 248.99,1067.13 254.27,1065.12 259.55,1063.02 264.83,1060.82 270.11,1058.53 275.39,1056.16 280.67,1053.71 285.95,1051.19 291.23,1048.60 296.51,1045.94 301.79,1043.23 307.08,1040.46 312.36,1037.64 317.64,1034.78 322.92,1031.88 328.20,1028.94 333.48,1025.97 338.76,1022.96 344.04,1019.93 349.32,1016.88 354.60,1013.80 359.88,1010.70 365.16,1007.58 370.44,1004.44 375.72,1001.29 381.00,998.12 386.28,994.94 391.56,991.74 396.85,988.54 402.13,985.32 407.41,982.09 412.69,978.86 417.97,975.61 423.25,972.36 428.53,969.10 433.81,965.83 439.09,962.56 444.37,959.28 449.65,956.00 454.93,952.71 460.21,949.41 465.49,946.11 470.77,942.81 476.05,939.50 481.33,936.19 486.61,932.87 491.90,929.55 497.18,926.23 502.46,922.90 507.74,919.58 513.02,916.24 518.30,912.91 523.58,909.57 528.86,906.24 534.14,902.90 539.42,899.55 544.70,896.21 549.98,892.86 555.26,889.51 560.54,886.16 565.82,882.81 571.10,879.46 576.38,876.10 581.66,872.75 581.66,1086.54 576.38,1086.78 571.10,1087.02 565.82,1087.26 560.54,1087.50 555.26,1087.75 549.98,1087.99 544.70,1088.24 539.42,1088.49 534.14,1088.74 528.86,1088.99 523.58,1089.25 518.30,1089.51 513.02,1089.77 507.74,1090.03 502.46,1090.30 497.18,1090.56 491.90,1090.84 486.61,1091.11 481.33,1091.39 476.05,1091.67 470.77,1091.96 465.49,1092.25 460.21,1092.54 454.93,1092.84 449.65,1093.14 444.37,1093.45 439.09,1093.77 433.81,1094.09 428.53,1094.41 423.25,1094.75 417.97,1095.09 412.69,1095.44 407.41,1095.80 402.13,1096.16 396.85,1096.54 391.56,1096.93 386.28,1097.33 381.00,1097.74 375.72,1098.16 370.44,1098.60 365.16,1099.06 359.88,1099.54 354.60,1100.03 349.32,1100.54 344.04,1101.08 338.76,1101.65 333.48,1102.24 328.20,1102.86 322.92,1103.51 317.64,1104.21 312.36,1104.94 307.08,1105.72 301.79,1106.54 296.51,1107.42 291.23,1108.36 285.95,1109.36 280.67,1110.43 275.39,1111.57 270.11,1112.80 264.83,1114.10 259.55,1115.50 254.27,1116.99 248.99,1118.58 243.71,1120.27 238.43,1122.06 233.15,1123.94 227.87,1125.93 222.59,1128.02 217.31,1130.20 212.03,1132.47 206.74,1134.82 201.46,1137.26 196.18,1139.77 190.90,1142.35 185.62,1145.00 180.34,1147.70 175.06,1150.46 169.78,1153.27 164.50,1156.12" fill="#80bde6"/>
<line x1="164.50" y1="1121.60" x2="581.66" y2="979.65" stroke="#111" stroke-width="1.3" />
<circle cx="459.03" cy="1017.19" r="8.59" fill="none" stroke="#85320f" stroke-width="1.25"/>
<circle cx="364.42" cy="997.60" r="8.44" fill="none" stroke="#85320f" stroke-width="1.25"/>
<circle cx="192.11" cy="1050.99" r="10.07" fill="none" stroke="#85320f" stroke-width="1.25"/>
<circle cx="165.55" cy="1125.22" r="11.13" fill="none" stroke="#85320f" stroke-width="1.25"/>
<circle cx="580.93" cy="898.96" r="5.50" fill="none" stroke="#85320f" stroke-width="1.25"/>
<circle cx="182.67" cy="1084.72" r="12.90" fill="none" stroke="#85320f" stroke-width="1.25"/>
<circle cx="244.72" cy="1023.61" r="10.10" fill="none" stroke="#85320f" stroke-width="1.25"/>
<circle cx="226.66" cy="1067.32" r="15.89" fill="none" stroke="#85320f" stroke-width="1.25"/>
<circle cx="222.46" cy="1105.09" r="11.42" fill="none" stroke="#85320f" stroke-width="1.25"/>
<circle cx="195.37" cy="1138.86" r="22.35" fill="none" stroke="#85320f" stroke-width="1.25"/>
<circle cx="326.51" cy="1121.44" r="18.59" fill="none" stroke="#85320f" stroke-width="1.25"/>
<circle cx="247.66" cy="1117.72" r="8.23" fill="none" stroke="#85320f" stroke-width="1.25"/>
<circle cx="269.81" cy="1043.88" r="9.49" fill="none" stroke="#85320f" stroke-width="1.25"/>
<circle cx="164.50" cy="1130.98" r="14.54" fill="none" stroke="#85320f" stroke-width="1.25"/>
<line x1="130.00" y1="839.00" x2="130.00" y2="1198.60" stroke="#5a5a5a" stroke-width="1.3" />
<line x1="129.30" y1="1198.00" x2="620.50" y2="1198.00" stroke="#5a5a5a" stroke-width="1.3" />
<line x1="124.00" y1="1163.70" x2="130.00" y2="1163.70" stroke="#5a5a5a" stroke-width="1.3" />
<text x="117.00" y="1163.70" font-family='"Liberation Serif", serif' font-size="15.7" text-anchor="middle" font-weight="normal" fill="#000" letter-spacing="0" transform="rotate(-90 117.0 1163.70)" dx="0">.2</text>
<line x1="124.00" y1="1110.10" x2="130.00" y2="1110.10" stroke="#5a5a5a" stroke-width="1.3" />
<text x="117.00" y="1110.10" font-family='"Liberation Serif", serif' font-size="15.7" text-anchor="middle" font-weight="normal" fill="#000" letter-spacing="0" transform="rotate(-90 117.0 1110.10)" dx="0">.4</text>
<line x1="124.00" y1="1056.50" x2="130.00" y2="1056.50" stroke="#5a5a5a" stroke-width="1.3" />
<text x="117.00" y="1056.50" font-family='"Liberation Serif", serif' font-size="15.7" text-anchor="middle" font-weight="normal" fill="#000" letter-spacing="0" transform="rotate(-90 117.0 1056.50)" dx="0">.6</text>
<line x1="124.00" y1="1002.90" x2="130.00" y2="1002.90" stroke="#5a5a5a" stroke-width="1.3" />
<text x="117.00" y="1002.90" font-family='"Liberation Serif", serif' font-size="15.7" text-anchor="middle" font-weight="normal" fill="#000" letter-spacing="0" transform="rotate(-90 117.0 1002.90)" dx="0">.8</text>
<line x1="124.00" y1="949.30" x2="130.00" y2="949.30" stroke="#5a5a5a" stroke-width="1.3" />
<text x="117.00" y="949.30" font-family='"Liberation Serif", serif' font-size="15.7" text-anchor="middle" font-weight="normal" fill="#000" letter-spacing="0" transform="rotate(-90 117.0 949.30)" dx="0">1</text>
<line x1="124.00" y1="895.70" x2="130.00" y2="895.70" stroke="#5a5a5a" stroke-width="1.3" />
<text x="117.00" y="895.70" font-family='"Liberation Serif", serif' font-size="15.7" text-anchor="middle" font-weight="normal" fill="#000" letter-spacing="0" transform="rotate(-90 117.0 895.70)" dx="0">1.2</text>
<line x1="164.50" y1="1198.00" x2="164.50" y2="1203.50" stroke="#5a5a5a" stroke-width="1.3" />
<text x="164.50" y="1217.60" font-family='"Liberation Serif", serif' font-size="15.7" text-anchor="middle" font-weight="normal" fill="#000" letter-spacing="0" >1</text>
<line x1="269.50" y1="1198.00" x2="269.50" y2="1203.50" stroke="#5a5a5a" stroke-width="1.3" />
<text x="269.50" y="1217.60" font-family='"Liberation Serif", serif' font-size="15.7" text-anchor="middle" font-weight="normal" fill="#000" letter-spacing="0" >2</text>
<line x1="374.50" y1="1198.00" x2="374.50" y2="1203.50" stroke="#5a5a5a" stroke-width="1.3" />
<text x="374.50" y="1217.60" font-family='"Liberation Serif", serif' font-size="15.7" text-anchor="middle" font-weight="normal" fill="#000" letter-spacing="0" >3</text>
<line x1="479.50" y1="1198.00" x2="479.50" y2="1203.50" stroke="#5a5a5a" stroke-width="1.3" />
<text x="479.50" y="1217.60" font-family='"Liberation Serif", serif' font-size="15.7" text-anchor="middle" font-weight="normal" fill="#000" letter-spacing="0" >4</text>
<line x1="584.50" y1="1198.00" x2="584.50" y2="1203.50" stroke="#5a5a5a" stroke-width="1.3" />
<text x="584.50" y="1217.60" font-family='"Liberation Serif", serif' font-size="15.7" text-anchor="middle" font-weight="normal" fill="#000" letter-spacing="0" >5</text>
<text x="94.70" y="1026.30" font-family='"Liberation Serif", serif' font-size="16.5" text-anchor="middle" font-weight="normal" fill="#000" letter-spacing="0" transform="rotate(-90 94.7 1026.3)">Ln(OR)</text>
<text x="305.00" y="1242.60" font-family='"Liberation Serif", serif' font-size="15.7" text-anchor="start" font-weight="normal" fill="#000" letter-spacing="-0.22" >Cutoff value of SIRI</text></svg>
</body></html>
